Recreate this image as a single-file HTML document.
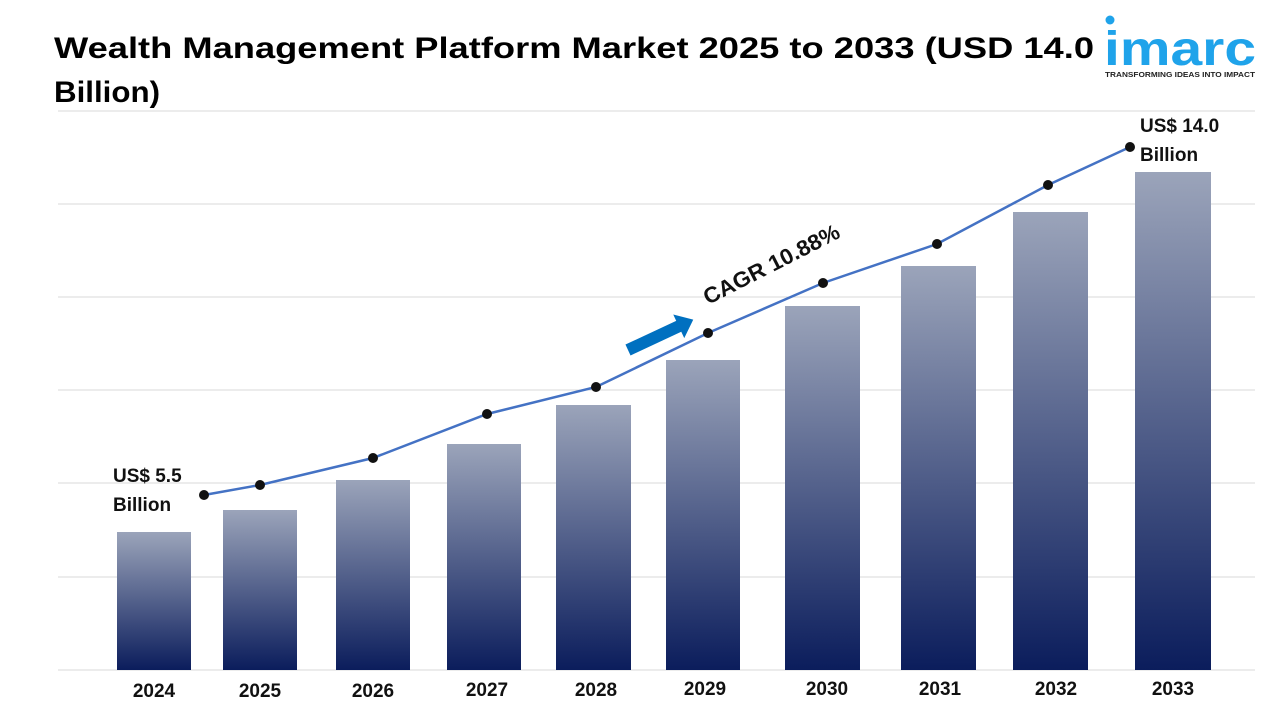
<!DOCTYPE html>
<html><head><meta charset="utf-8"><style>
body{margin:0;width:1280px;height:720px;background:#fff;overflow:hidden;font-family:"Liberation Sans",sans-serif}
</style></head><body>
<svg width="1280" height="720" xmlns="http://www.w3.org/2000/svg" style="position:absolute;left:0;top:0">
<defs><linearGradient id="g" x1="0" y1="0" x2="0" y2="1"><stop offset="0" stop-color="#9ba4ba"/><stop offset="1" stop-color="#0b1d5c"/></linearGradient></defs>
<text x="54" y="58" font-size="30" font-weight="bold" fill="#000" textLength="1040" lengthAdjust="spacingAndGlyphs">Wealth Management Platform Market 2025 to 2033 (USD 14.0</text>
<text x="54" y="102" font-size="30" font-weight="bold" fill="#000" textLength="106" lengthAdjust="spacingAndGlyphs">Billion)</text>
<circle cx="1110" cy="20" r="4.5" fill="#1fa3ea"/>
<text x="1104" y="65" font-size="48" font-weight="bold" fill="#1fa3ea" textLength="152" lengthAdjust="spacingAndGlyphs">imarc</text>
<text x="1105" y="77" font-size="7.5" font-weight="bold" fill="#222" textLength="150" lengthAdjust="spacingAndGlyphs">TRANSFORMING IDEAS INTO IMPACT</text>
<g stroke="#d9d9d9" stroke-width="1">
<line x1="58" y1="111" x2="1255" y2="111"/><line x1="58" y1="204" x2="1255" y2="204"/><line x1="58" y1="297" x2="1255" y2="297"/><line x1="58" y1="390" x2="1255" y2="390"/><line x1="58" y1="483" x2="1255" y2="483"/><line x1="58" y1="577" x2="1255" y2="577"/><line x1="58" y1="670" x2="1255" y2="670"/>
</g>
<g fill="url(#g)">
<rect x="117" y="532" width="74" height="138"/><rect x="223" y="510" width="74" height="160"/><rect x="336" y="480" width="74" height="190"/><rect x="447" y="444" width="74" height="226"/><rect x="556" y="405" width="75" height="265"/><rect x="666" y="360" width="74" height="310"/><rect x="785" y="306" width="75" height="364"/><rect x="901" y="266" width="75" height="404"/><rect x="1013" y="212" width="75" height="458"/><rect x="1135" y="172" width="76" height="498"/>
</g>
<polyline points="204,495 260,485 373,458 487,414 596,387 708,333 823,283 937,244 1048,185 1130,147" fill="none" stroke="#4472c4" stroke-width="2.5"/>
<g fill="#111"><circle cx="204" cy="495" r="5"/><circle cx="260" cy="485" r="5"/><circle cx="373" cy="458" r="5"/><circle cx="487" cy="414" r="5"/><circle cx="596" cy="387" r="5"/><circle cx="708" cy="333" r="5"/><circle cx="823" cy="283" r="5"/><circle cx="937" cy="244" r="5"/><circle cx="1048" cy="185" r="5"/><circle cx="1130" cy="147" r="5"/></g>
<g font-size="19" font-weight="bold" fill="#111" text-anchor="middle">
<text x="154" y="697">2024</text><text x="260" y="697">2025</text><text x="373" y="697">2026</text><text x="487" y="696">2027</text><text x="596" y="696">2028</text><text x="705" y="695">2029</text><text x="827" y="695">2030</text><text x="940" y="695">2031</text><text x="1056" y="695">2032</text><text x="1173" y="695">2033</text>
</g>
<g font-size="19" font-weight="bold" fill="#111">
<text x="113" y="482">US$ 5.5</text><text x="113" y="511">Billion</text>
<text x="1140" y="132">US$ 14.0</text><text x="1140" y="161">Billion</text>
</g>
<text x="0" y="0" font-size="22" font-weight="bold" fill="#111" transform="translate(708,305) rotate(-27)" textLength="150" lengthAdjust="spacingAndGlyphs">CAGR 10.88%</text>
<g transform="translate(628,350) rotate(-25)"><rect x="0" y="-6" width="58" height="12" fill="#0070c0"/><polygon points="56,-13 72,0 56,13" fill="#0070c0"/></g>
</svg>
</body></html>
